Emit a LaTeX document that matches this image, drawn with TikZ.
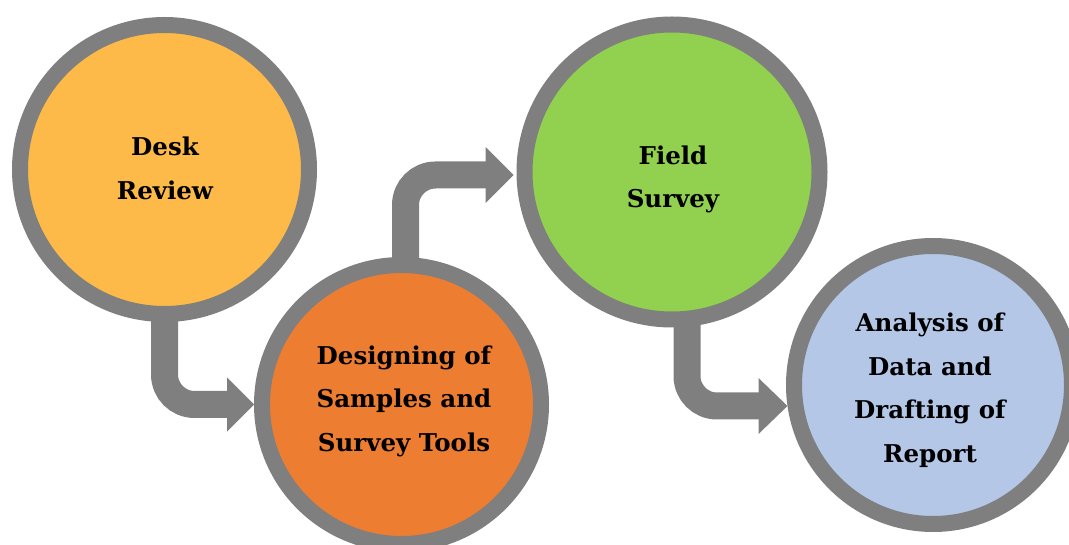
\documentclass[tikz,border=0pt]{standalone}
\usepackage{fontspec}
\setmainfont{DejaVu Serif}
\usetikzlibrary{calc,backgrounds}
\definecolor{ringgray}{HTML}{7F7F7F}
\definecolor{cyellow}{HTML}{FDBA48}
\definecolor{corange}{HTML}{ED7D31}
\definecolor{cgreen}{HTML}{92D050}
\definecolor{cblue}{HTML}{B4C7E7}
\tikzset{
  stage/.style={circle, draw=ringgray, line width=16pt, inner sep=0pt, outer sep=8pt},
  label/.style={align=center, text=black, font={\fontsize{24.5}{43.5}\selectfont\bfseries}},
  stem/.style={draw=ringgray, line width=27pt, rounded corners=30pt},
  head/.style={fill=ringgray}
}
\begin{document}
\begin{tikzpicture}[x=1pt,y=-1pt]
\useasboundingbox (0,0) rectangle (1069,545);
\clip (0,0) rectangle (1069,545);
% circles
\node[stage, fill=cyellow, minimum size=289pt] (c1) at (164.5,169.5) {};
\node[stage, fill=corange, minimum size=279pt] (c2) at (401.5,404.5) {};
\node[stage, fill=cgreen,  minimum size=295pt] (c3) at (672,172) {};
\node[stage, fill=cblue,   minimum size=278pt] (c4) at (933,385) {};
% labels
\node[label] (t1) at (165,168.5) {Desk\\Review};
\node[label] (t2) at (404,401) {Designing of\\Samples and\\Survey Tools};
\node[label] (t3) at (673,179.5) {Field\\Survey};
\node[label] (t4) at (930,390) {Analysis of\\Data and\\Drafting of\\Report};
% arrows
\coordinate (a1t) at (c2.west);
\coordinate (a2s) at ($(c2.center)+(4,0)$);
\coordinate (a2t) at ($(c3.west)+(-3,3)$);
\coordinate (a3s) at ($(c3.center)+(15,0)$);
\coordinate (a3t) at ($(c4.center)+(-145.5,21)$);
\begin{scope}[on background layer]
  \draw[stem] (c1.center) |- ($(a1t)+(-26,0)$);
  \fill[head] ($(a1t)+(-27,-27)$) -- (a1t) -- ($(a1t)+(-27,27)$) -- cycle;
  \draw[stem] (a2s) |- ($(a2t)+(-26,0)$);
  \fill[head] ($(a2t)+(-28,-28)$) -- (a2t) -- ($(a2t)+(-28,28)$) -- cycle;
  \draw[stem] (a3s) |- ($(a3t)+(-28,0)$);
  \fill[head] ($(a3t)+(-29,-28)$) -- (a3t) -- ($(a3t)+(-29,28)$) -- cycle;
\end{scope}
\end{tikzpicture}
\end{document}
